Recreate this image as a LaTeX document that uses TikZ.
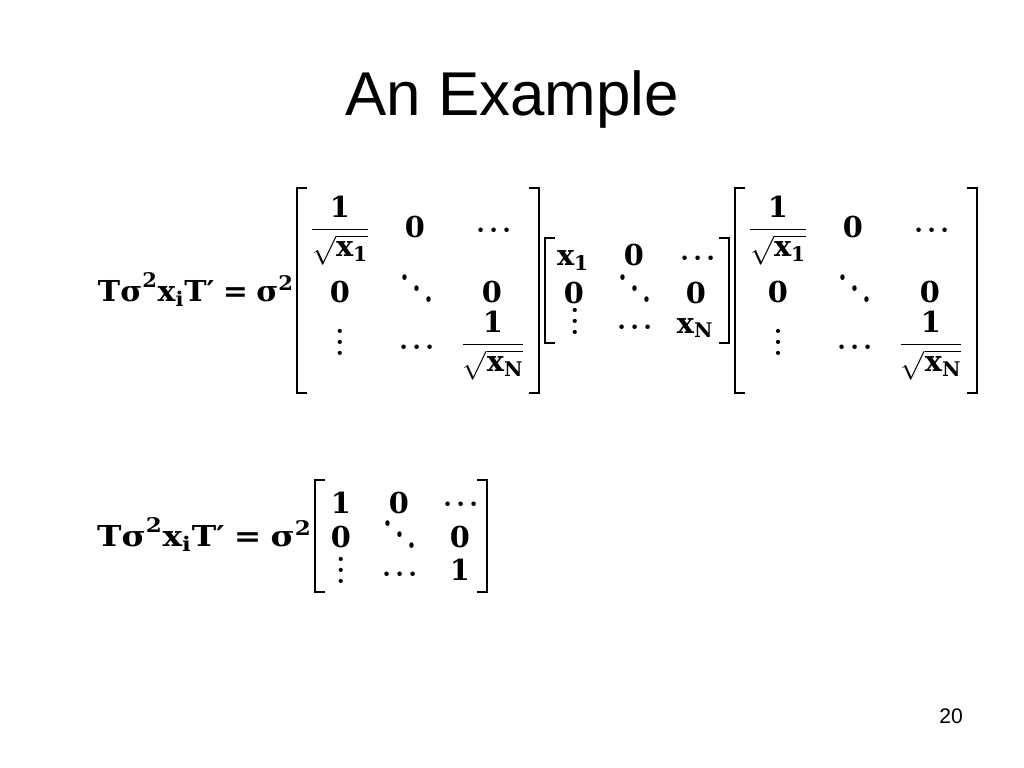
\documentclass[tikz,border=0pt]{standalone}
\usepackage{fix-cm}
\usepackage{amsmath}
\usepackage{graphicx}
\usepackage[no-math]{fontspec}
\newfontfamily\slidefont{Liberation Sans}
\newfontfamily\eqfont{DejaVu Serif}
\usetikzlibrary{calc}
\tikzset{%
  heading/.style={anchor=base, inner sep=0pt, font=\fontsize{44}{50}\selectfont\slidefont},% slide title
  pagenum/.style={anchor=base, inner sep=0pt, font=\fontsize{15}{18}\selectfont\slidefont},% page number
  entry/.style={anchor=base, inner sep=0pt, font=\fontsize{20.5}{25}\selectfont\eqfont\bfseries},% matrix entry
  lhs/.style={entry, anchor=base east},% left hand side of an equation
  bracket/.style={line width=1.8pt, line join=miter}% matrix brackets
}
\newcommand*{\ticklen}{10}
\newcommand*{\rowdots}{{\boldmath$\mathinner{\cdotp\mkern-1mu\cdotp\mkern-1mu\cdotp}$}}
\newcommand*{\coldots}{\scalebox{1.9}{\normalfont\bfseries\normalsize\vbox{\baselineskip4pt\lineskiplimit0pt\hbox{.}\hbox{.}\hbox{.}}}}
\newcommand*{\diagdots}{\scalebox{2}[2.6]{\normalfont\bfseries\normalsize$\mkern1mu\raise7pt\hbox{.}\mkern2mu\raise4pt\hbox{.}\mkern2mu\raise1pt\hbox{.}\mkern1mu$}}
\newcommand*{\bx}[1]{\text{x}_{\text{#1}}}
\newcommand*{\isqrt}[1]{$\dfrac{\text{1}}{\sqrt{\bx{#1}}}$}
\newcommand*{\lhstext}{$\text{Tσ}^{\text{2}}\bx{i}\text{T′} \mathrel{\text{=}} \text{σ}^{\text{2}}$}
\newcommand*{\drawbrackets}[1]{%
  \draw[bracket] (#1nw |- #1se) ++(\ticklen,0) -- ++(-\ticklen,0) |- (#1nw) -- ++(\ticklen,0);
  \draw[bracket] (#1se) ++(-\ticklen,0) -- ++(\ticklen,0) |- (#1nw -| #1se) -- ++(-\ticklen,0);}
\newcommand*{\tmatrix}[2]{% #1 name prefix, #2 x shift
\begin{scope}[shift={(#2,0)}]
  \coordinate (#1nw) at (297,188);
  \coordinate (#1se) at (539,393);
  \node[entry] (#111) at (340,237) {\isqrt{1}};
  \node[entry] (#112) at (415,237) {0};
  \node[entry] (#113) at (494,237) {\rowdots};
  \node[entry] (#121) at (340,302) {0};
  \node[entry] (#122) at (417,306) {\diagdots};
  \node[entry] (#123) at (492,302) {0};
  \node[entry] (#131) at (340,355) {\coldots};
  \node[entry] (#132) at (417,354) {\rowdots};
  \node[entry] (#133) at (493,352) {\isqrt{N}};
  \drawbrackets{#1}
\end{scope}}

\begin{document}
\begin{tikzpicture}[x=0.025cm, y=-0.025cm]
\path[use as bounding box, fill=white] (0,0) rectangle (1024,768);
\node[heading] (title) at (512,116) {An Example};

% first equation
\node[lhs] (lhs1) at (294,301) {\scalebox{1.04}[1]{\lhstext}};
\tmatrix{a}{0}
\coordinate (bnw) at (545,238);
\coordinate (bse) at (729,343);
\node[entry] (b11) at (573,265) {$\bx{1}$};
\node[entry] (b12) at (634,265) {0};
\node[entry] (b13) at (698,265) {\rowdots};
\node[entry] (b21) at (574,303) {0};
\node[entry] (b22) at (635,306) {\diagdots};
\node[entry] (b23) at (696,303) {0};
\node[entry] (b31) at (575,334) {\coldots};
\node[entry] (b32) at (635,334) {\rowdots};
\node[entry] (b33) at (695,333) {$\bx{N}$};
\drawbrackets{b}
\tmatrix{c}{438}

% second equation
\node[lhs] (lhs2) at (312,546) {\scalebox{1.14}[1]{\lhstext}};
\coordinate (dnw) at (315,480);
\coordinate (dse) at (487,592);
\node[entry] (d11) at (341,513) {1};
\node[entry] (d12) at (399,513) {0};
\node[entry] (d13) at (461,511) {\rowdots};
\node[entry] (d21) at (341,547) {0};
\node[entry] (d22) at (400,552) {\diagdots};
\node[entry] (d23) at (460,547) {0};
\node[entry] (d31) at (341,583) {\coldots};
\node[entry] (d32) at (400,581) {\rowdots};
\node[entry] (d33) at (460,580) {1};
\drawbrackets{d}

\node[pagenum] (page) at (951,723) {20};
\end{tikzpicture}
\end{document}
